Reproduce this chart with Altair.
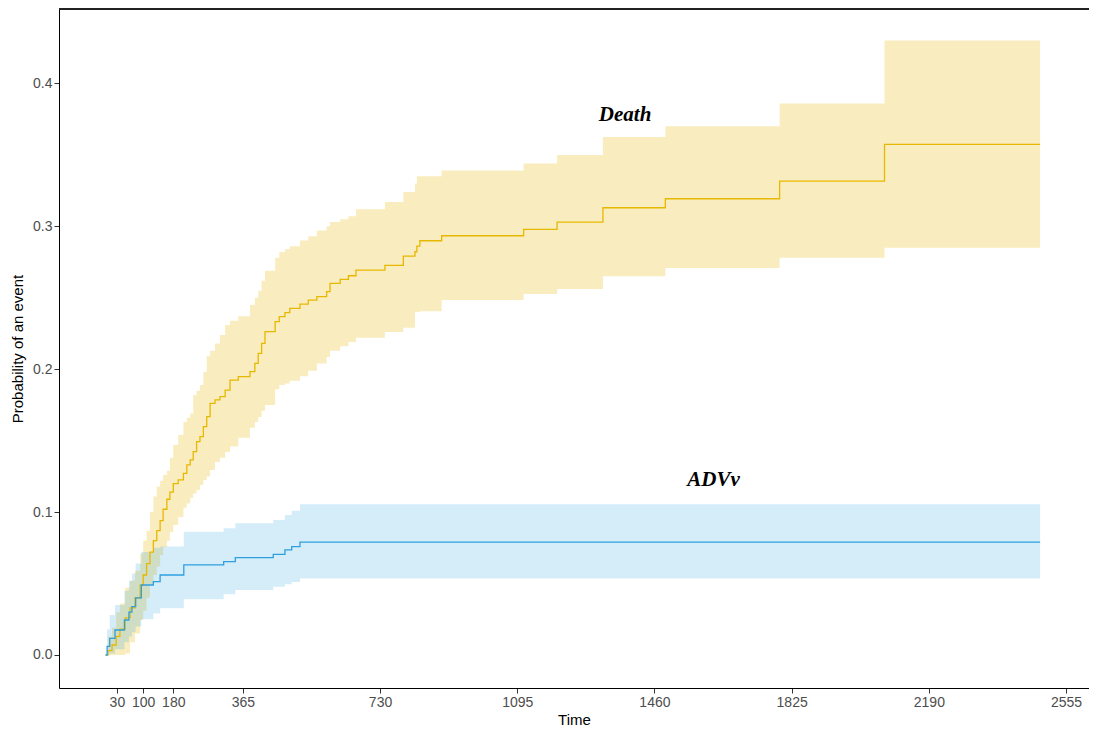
import altair as alt
import pandas as pd

# ---- Death (cumulative incidence) ----
death_t = [0, 6, 17, 28, 38, 52, 65, 78, 92, 100,
           109, 118, 127, 136, 145, 153, 163, 171, 180, 193,
           207, 216, 225, 233, 242, 251, 260, 269, 278, 291,
           304, 318, 331, 353, 384, 397, 406, 415, 424, 451,
           462, 477, 490, 517, 539, 562, 588, 597, 624, 646,
           666, 743, 792, 823, 828, 836, 894, 1112, 1201, 1323,
           1489, 1793, 2072, 2486]
death_p = [0, 0.003, 0.007, 0.013, 0.018, 0.026, 0.033, 0.040, 0.049, 0.056,
           0.064, 0.072, 0.080, 0.087, 0.094, 0.102, 0.109, 0.114, 0.120, 0.1225,
           0.1271, 0.133, 0.1365, 0.1423, 0.1493, 0.1528, 0.1598, 0.1668, 0.1761, 0.1785,
           0.1808, 0.1854, 0.1924, 0.1948, 0.1983, 0.2041, 0.2111, 0.2181, 0.2263, 0.2333,
           0.2368, 0.2396, 0.2426, 0.2456, 0.2484, 0.2508, 0.2543, 0.2601, 0.2629, 0.2654,
           0.2694, 0.2727, 0.2792, 0.2822, 0.2862, 0.2899, 0.2934, 0.2979, 0.3030, 0.3130,
           0.3193, 0.3316, 0.3574, 0.3574]
death_hi = [0, 0.013, 0.019, 0.030, 0.036, 0.047, 0.052, 0.059, 0.071, 0.080,
            0.087, 0.100, 0.111, 0.118, 0.122, 0.126, 0.129, 0.138, 0.147, 0.154,
            0.163, 0.166, 0.169, 0.182, 0.185, 0.189, 0.198, 0.209, 0.213, 0.218,
            0.224, 0.231, 0.234, 0.237, 0.245, 0.250, 0.255, 0.262, 0.269, 0.278,
            0.282, 0.284, 0.286, 0.290, 0.293, 0.297, 0.300, 0.303, 0.305, 0.307,
            0.312, 0.317, 0.324, 0.330, 0.335, 0.335, 0.339, 0.344, 0.350, 0.3625,
            0.370, 0.386, 0.430, 0.430]
death_lo = [0, 0, 0, 0, 0, 0.001, 0.009, 0.015, 0.0245, 0.031,
            0.040, 0.049, 0.056, 0.062, 0.070, 0.0756, 0.080, 0.086, 0.091, 0.0966,
            0.103, 0.106, 0.110, 0.113, 0.1155, 0.119, 0.1225, 0.125, 0.1295, 0.135,
            0.138, 0.142, 0.146, 0.152, 0.159, 0.163, 0.1665, 0.171, 0.175, 0.186,
            0.189, 0.190, 0.192, 0.195, 0.199, 0.204, 0.2085, 0.213, 0.216, 0.219,
            0.222, 0.226, 0.229, 0.240, 0.240, 0.2405, 0.2484, 0.2526, 0.2561, 0.265,
            0.2708, 0.278, 0.285, 0.285]

# ---- ADVv (cumulative incidence) ----
adv_t = [0, 4, 11, 25, 50, 62, 70, 80, 95, 127, 145, 208, 314, 345, 446, 477, 495, 517, 2486]
adv_p = [0, 0.006, 0.0117, 0.0175, 0.0245, 0.030, 0.0338, 0.040, 0.049, 0.0513,
         0.056, 0.063, 0.0653, 0.0681, 0.0704, 0.0735, 0.0758, 0.079, 0.079]
adv_lo = [0, 0, 0.001, 0.004, 0.009, 0.013, 0.016, 0.020, 0.025, 0.029,
          0.0327, 0.039, 0.0425, 0.0455, 0.0478, 0.0495, 0.051, 0.0535, 0.0535]
adv_hi = [0, 0.018, 0.028, 0.035, 0.045, 0.052, 0.057, 0.064, 0.072, 0.075,
          0.076, 0.0863, 0.0887, 0.0922, 0.0945, 0.098, 0.101, 0.1055, 0.1055]

x_ticks = [30, 100, 180, 365, 730, 1095, 1460, 1825, 2190, 2555]
y_ticks = [0.0, 0.1, 0.2, 0.3, 0.4]

label_text = ["Death", "ADVv"]
label_t = [1382, 1617]
label_p = [0.378, 0.1225]

death_df = pd.DataFrame({"t": death_t, "p": death_p, "lo": death_lo, "hi": death_hi})
adv_df = pd.DataFrame({"t": adv_t, "p": adv_p, "lo": adv_lo, "hi": adv_hi})
lab_df = pd.DataFrame({"label": label_text, "t": label_t, "p": label_p})

W, H = 1030, 679
xs = alt.Scale(domain=[-124, 2616], nice=False, zero=False)
ys = alt.Scale(domain=[-0.0231, 0.4521], nice=False, zero=False)

xax = alt.Axis(values=x_ticks, format="d", title="Time", grid=False, labelPadding=2, titlePadding=3)
yax = alt.Axis(values=y_ticks, format=".1f", title="Probability of an event",
               grid=False, labelPadding=2, titlePadding=7)

X = alt.X("t:Q", scale=xs, axis=xax)
Y = alt.Y("p:Q", scale=ys, axis=yax)

def band(df, color, op):
    return alt.Chart(df).mark_area(interpolate="step-after", color=color, opacity=op).encode(
        x=alt.X("t:Q", scale=xs, axis=xax), y=alt.Y("lo:Q", scale=ys, axis=yax), y2="hi:Q")

def line(df, color):
    return alt.Chart(df).mark_line(interpolate="step-after", color=color, strokeWidth=1.3).encode(
        x=X, y=Y)

labels = alt.Chart(lab_df).mark_text(font="Liberation Serif", fontStyle="italic", fontWeight="bold",
                                      fontSize=21, color="black", align="center",
                                      baseline="middle").encode(x=X, y=Y, text="label:N")

top = alt.Chart(alt.Data(values=[{"a": 1}])).mark_rule(color="#222222", strokeWidth=2).encode(
    x=alt.value(0), x2=alt.value(W), y=alt.value(0))

chart = alt.layer(
    band(death_df, "#E7B800", 0.25),
    band(adv_df, "#2E9FDF", 0.2),
    line(death_df, "#E7B800"),
    line(adv_df, "#2E9FDF"),
    labels,
    top,
).properties(
    width=W, height=H,
    autosize=alt.AutoSizeParams(type="none"),
    padding={"left": 51, "top": 1, "right": 0, "bottom": 40},
).configure_view(stroke=None).configure_axis(
    labelFont="Liberation Sans", labelFontSize=14, labelColor="#4D4D4D",
    titleFont="Liberation Sans", titleFontSize=15, titleFontWeight="normal", titleColor="black",
    tickColor="#333333", tickSize=5, domainColor="black", domainWidth=1,
)

chart.save("out.html", embed_options={"renderer": "svg", "actions": False})
